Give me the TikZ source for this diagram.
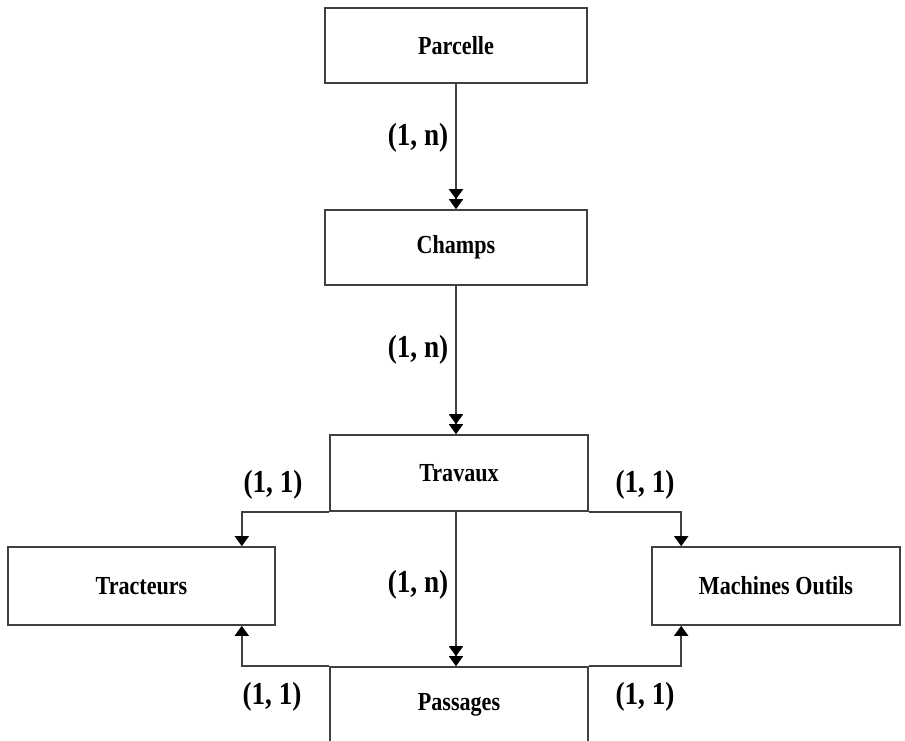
\documentclass[tikz,border=0pt]{standalone}
\usepackage{fontspec}
\setmainfont{Liberation Serif}[FakeStretch=0.85]
\usetikzlibrary{arrows.meta,positioning,calc}
\tikzset{%
  every entity/.style={
    draw=black!75,
    line width=0.8pt,
    minimum width=131pt,
    minimum height=37.5pt,
    inner sep=0pt,
    font=\fontsize{13}{15}\selectfont\bfseries
  },
  card/.style={
    font=\fontsize{16}{18}\selectfont\bfseries
  },
  one/.style={
    draw=black!75,
    line width=0.8pt,
    -{Triangle[width=7pt,length=5pt,color=black]}
  },
  many/.style={
    one,
    -{Triangle[width=7pt,length=5pt,color=black]Triangle[width=7pt,length=5pt,color=black]}
  },
}
\begin{document}
\begin{tikzpicture}[x=0.5pt, y=-0.5pt]

\clip (0,0) rectangle (905,740);

% entities
\node [every entity] (parcelle) at (456,45.5) {Parcelle};
\node [every entity] (champs) at (456,247.5) {Champs};
\node [every entity, minimum width=129pt, minimum height=38pt] (travaux) at (459,473) {Travaux};
\node [every entity, minimum width=133.5pt, minimum height=39pt] (tracteurs) at (141.5,586) {Tracteurs};
\node [every entity, minimum width=124pt, minimum height=39pt] (machines) at (776,586) {Machines Outils};
\node [every entity, minimum width=129pt, minimum height=38pt] (passages) at (459,705) {Passages};

% links
\draw [many] (parcelle) -- (champs);
\draw [many] (champs) -- (champs |- travaux.north);
\draw [many] (travaux.south -| champs) -- (champs |- passages.north);
\draw [one] (travaux.south west) -| ([xshift=-17pt]tracteurs.north east);
\draw [one] (travaux.south east) -| ([xshift=15pt]machines.north west);
\draw [one] (passages.north west) -| ([xshift=-17pt]tracteurs.south east);
\draw [one] (passages.north east) -| ([xshift=15pt]machines.south west);

% cardinalities
\foreach \n/\x/\y in {pc/418/138, ct/418/350, tp/418/585}
  \node [card] (card-\n) at (\x,\y) {(1, n)};
\foreach \n/\x/\y in {tt/273/485, tm/645/485, pt/272/697, pm/645/697}
  \node [card] (card-\n) at (\x,\y) {(1, 1)};

\end{tikzpicture}
\end{document}
